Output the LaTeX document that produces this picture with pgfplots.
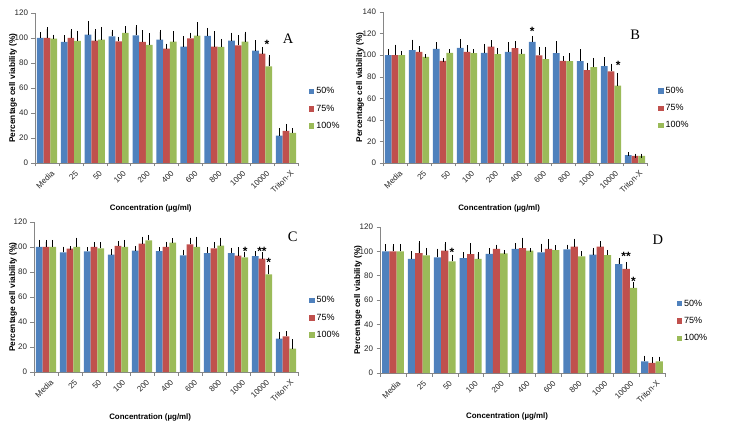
\documentclass[border=0pt]{standalone}
\usepackage{fontspec}
\setmainfont{Liberation Sans}
\newfontfamily\serifletter{Liberation Serif}
\usepackage{pgfplots}
\usepackage{pgfplotstable}
\pgfplotsset{compat=1.18}
\definecolor{cb}{HTML}{4F81BD}
\definecolor{cr}{HTML}{C0504D}
\definecolor{cg}{HTML}{9BBB59}
\definecolor{axgray}{HTML}{868686}

\pgfplotstableread{
x b be r re g ge
0 100 3 100 7 99.5 1.5
1 96.8 3.7 100 5.3 97.6 6.7
2 102.7 9.3 97.9 7.4 98.7 8.5
3 101.3 3.5 97.3 2.2 104 3.7
4 102.1 6.4 96.8 7.7 94.4 7.6
5 98.7 6.1 91.5 2.4 97 6.7
6 93 6.7 99.7 3 101.9 9.1
7 101.6 4.8 93 10.7 92.8 4.8
8 97.9 4.8 94.1 6.4 97 6.5
9 89.9 6.6 87.5 3.7 77.3 7.2
10 21.9 4.5 25.6 4 24 2
}\dataA
\pgfplotstableread{
x b be r re g ge
0 100 4 100 8 100 2
1 104.6 8 103.1 3.1 98.5 0.5
2 105.8 4.4 94.8 0.5 102.2 1.5
3 106.8 6.4 103.1 4 101.8 1.9
4 102.2 6.4 108 4 100.9 4
5 103.1 7.1 106.5 4.5 101.2 2.5
6 112.3 3.7 99.7 6.1 96.3 9.5
7 101.8 9 94.8 2.4 94.5 5.2
8 94.5 8.9 86.2 4.9 88.9 6.8
9 89.8 6.2 84.9 5.3 71.7 10.1
10 7.4 0.8 6.5 0.3 6.5 0.3
}\dataB
\pgfplotstableread{
x b be r re g ge
0 100 4 100 4 100 4
1 95.7 3 98.7 0.3 100 5.9
2 96.5 1.9 100 2.1 98.9 3.2
3 93.9 2.6 100.8 2.4 100 4
4 97.1 2.1 102.7 4 105.3 2.7
5 96.8 1.6 100 2.7 103.5 1.8
6 93.3 3 102.1 3.8 100 6.7
7 95.2 2.9 98.9 3.2 101.1 4.8
8 95.2 2.7 93.1 5.3 91.7 2.7
9 92.8 2.4 90.7 3.4 78.1 5.6
10 26.7 4 28.5 2.4 18.7 5.8
}\dataC
\pgfplotstableread{
x b be r re g ge
0 100 4 100 4 100 4
1 93.9 4.6 98.5 8.3 96.6 4.7
2 95 5.5 100.5 5.5 91.7 3.8
3 94.4 3.3 97.7 7.2 93.9 3.8
4 98 3 102.1 1.7 98.3 0.8
5 102.1 3.1 102.7 6.9 100.5 0.3
6 99.1 5.5 102.1 6.1 101 2.3
7 101.6 2.2 103.8 4.9 95.8 2.7
8 97.2 4.1 103.8 3 96.9 2.7
9 89.5 3.3 85.6 4.1 69.9 3
10 9.6 3.1 8.3 3 9.6 2.2
}\dataD

\pgfplotsset{
 panel/.style={
  scale only axis, ybar=0pt, bar width=#1,
  xmin=-0.5, xmax=10.5, ymin=0,
  xtick={0,...,10},
  xticklabels={Media,25,50,100,200,400,600,800,1000,10000,Triton-X},
  minor xtick={-0.5,0.5,...,10.5},
  major x tick style={draw=none},
  axis x line*=bottom, axis y line*=left,
  axis line style={axgray, -},
  every tick/.style={axgray},
  tick align=outside, major tick length=3.5pt, minor tick length=3.5pt,
  ytick distance=20,
  tick label style={font=\fontsize{8}{9}\selectfont, text=black!85},
  xticklabel style={rotate=45, anchor=north east, inner sep=1pt, xshift=1.5pt, yshift=-4pt},
  /pgf/number format/assume math mode=true,
  ylabel={Percentage cell viability (\%)},
  xlabel={Concentration (µg/ml)},
  ylabel style={font=\fontsize{8.3}{9}\selectfont\bfseries},
  xlabel style={font=\fontsize{7.9}{9}\selectfont\bfseries},
  legend style={draw=none, fill=none, at={(1.03,0.53)}, anchor=north west,
    font=\fontsize{9}{10}\selectfont, row sep=5.5pt},
  legend cell align=left,
  every axis plot post/.append style={
    legend image code/.code={\fill[##1] (0pt,-2.7pt) rectangle (5.4pt,2.7pt);}},
  error bars/y dir=plus, error bars/y explicit,
  error bars/error bar style={black, line width=0.5pt},
  error bars/error mark options={black, line width=0.5pt, mark size=2pt},
  clip=false,
 },
}
\tikzset{astar/.style={font=\fontsize{12}{12}\selectfont\bfseries, inner sep=0pt}}

\begin{document}
\begin{tikzpicture}
\useasboundingbox (0,0) rectangle (729pt,429pt);

% ---------- A ----------
\begin{axis}[panel=6.7pt, at={(35pt,266pt)}, anchor=south west,
  width=263pt, height=150pt, ymax=120,
  ylabel style={at={(axis description cs:-0.084,0.5)}, anchor=center},
  xlabel style={at={(axis description cs:0.44,-0.30)}, anchor=center}]
\addplot[fill=cb, draw=none] table[x=x, y=b, y error=be] {\dataA};
\addplot[fill=cr, draw=none] table[x=x, y=r, y error=re] {\dataA};
\addplot[fill=cg, draw=none] table[x=x, y=g, y error=ge] {\dataA};
\legend{50\%,75\%,100\%}
\node[astar] at (axis cs:9.2,95) {*};
\node[font=\serifletter\fontsize{14.5}{15}\selectfont] at (rel axis cs:0.962,0.827) {A};
\end{axis}

% ---------- B ----------
\begin{axis}[panel=6.7pt, at={(383pt,266pt)}, anchor=south west,
  width=264pt, height=151pt, ymax=140,
  ylabel style={at={(axis description cs:-0.087,0.5)}, anchor=center},
  xlabel style={at={(axis description cs:0.44,-0.298)}, anchor=center}]
\addplot[fill=cb, draw=none] table[x=x, y=b, y error=be] {\dataB};
\addplot[fill=cr, draw=none] table[x=x, y=r, y error=re] {\dataB};
\addplot[fill=cg, draw=none] table[x=x, y=g, y error=ge] {\dataB};
\legend{50\%,75\%,100\%}
\node[astar] at (axis cs:5.72,122) {*};
\node[astar] at (axis cs:9.3,90.5) {*};
\node[font=\serifletter\fontsize{14.5}{15}\selectfont] at (rel axis cs:0.955,0.848) {B};
\end{axis}

% ---------- C ----------
\begin{axis}[panel=6.7pt, at={(34pt,57pt)}, anchor=south west,
  width=264pt, height=150pt, ymax=120,
  ylabel style={at={(axis description cs:-0.08,0.5)}, anchor=center},
  xlabel style={at={(axis description cs:0.44,-0.30)}, anchor=center}]
\addplot[fill=cb, draw=none] table[x=x, y=b, y error=be] {\dataC};
\addplot[fill=cr, draw=none] table[x=x, y=r, y error=re] {\dataC};
\addplot[fill=cg, draw=none] table[x=x, y=g, y error=ge] {\dataC};
\legend{50\%,75\%,100\%}
\node[astar] at (axis cs:8.3,96.5) {*};
\node[astar] at (axis cs:9.0,96.5) {**};
\node[astar] at (axis cs:9.28,87.5) {*};
\node[font=\serifletter\fontsize{14.5}{15}\selectfont] at (rel axis cs:0.98,0.9) {C};
\end{axis}

% ---------- D ----------
\begin{axis}[panel=7.3pt, at={(380pt,56pt)}, anchor=south west,
  width=285pt, height=146pt, ymax=120,
  ylabel style={at={(axis description cs:-0.077,0.5)}, anchor=center},
  xlabel style={at={(axis description cs:0.446,-0.30)}, anchor=center}]
\addplot[fill=cb, draw=none] table[x=x, y=b, y error=be] {\dataD};
\addplot[fill=cr, draw=none] table[x=x, y=r, y error=re] {\dataD};
\addplot[fill=cg, draw=none] table[x=x, y=g, y error=ge] {\dataD};
\legend{50\%,75\%,100\%}
\node[astar] at (axis cs:2.28,99.5) {*};
\node[astar] at (axis cs:9.0,95.5) {**};
\node[astar] at (axis cs:9.28,75.5) {*};
\node[font=\serifletter\fontsize{14.5}{15}\selectfont] at (rel axis cs:0.975,0.91) {D};
\end{axis}
\end{tikzpicture}
\end{document}
